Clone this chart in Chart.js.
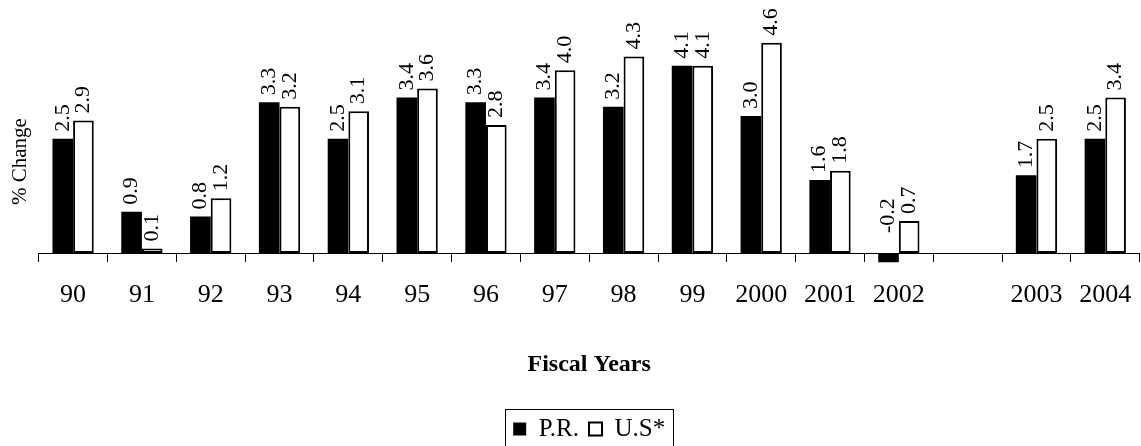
<!DOCTYPE html>
<html>
<head>
<meta charset="utf-8">
<script src="https://cdn.jsdelivr.net/npm/chart.js@4"></script>
<style>
  html, body { margin: 0; padding: 0; background: #fff; overflow: hidden; }
  #wrap { width: 1150px; height: 454px; }
</style>
</head>
<body>
<div id="wrap"><canvas id="chart"></canvas></div>
<script>
const years = ["90", "91", "92", "93", "94", "95", "96", "97", "98", "99", "2000", "2001", "2002", "", "2003", "2004"];
const prValues = [2.5, 0.9, 0.8, 3.3, 2.5, 3.4, 3.3, 3.4, 3.2, 4.1, 3.0, 1.6, -0.2, null, 1.7, 2.5];
const usValues = [2.9, 0.1, 1.2, 3.2, 3.1, 3.6, 2.8, 4.0, 4.3, 4.1, 4.6, 1.8, 0.7, null, 2.5, 3.4];

const serif = "'Liberation Serif', 'Times New Roman', serif";
Chart.defaults.font.family = serif;
Chart.defaults.color = "#000";

// rotated value labels above each bar
const barLabels = {
  id: "barLabels",
  afterDatasetsDraw(chart) {
    const ctx = chart.ctx;
    const zero = chart.scales.y.getPixelForValue(0);
    ctx.save();
    ctx.font = `22px ${serif}`;
    ctx.fillStyle = "#000";
    ctx.textAlign = "left";
    ctx.textBaseline = "middle";
    chart.data.datasets.forEach((ds, i) => {
      chart.getDatasetMeta(i).data.forEach((bar, j) => {
        const v = ds.data[j];
        if (v === null) return;
        const y = v < 0 ? zero - 20 : bar.y - 7;
        ctx.save();
        ctx.translate(bar.x, y);
        ctx.rotate(-Math.PI / 2);
        ctx.fillText(v.toFixed(1), 0, 0);
        ctx.restore();
      });
    });
    ctx.restore();
  }
};

// thin frame round the legend entries
const legendFrame = {
  id: "legendFrame",
  afterDraw(chart) {
    const boxes = chart.legend.legendHitBoxes;
    if (!boxes || !boxes.length) return;
    const last = boxes[boxes.length - 1];
    const left = Math.round(boxes[0].left - 8);
    const right = Math.round(last.left + last.width + 8);
    const top = Math.round(boxes[0].top + boxes[0].height / 2 - 20);
    const ctx = chart.ctx;
    ctx.save();
    ctx.strokeStyle = "#000";
    ctx.lineWidth = 1;
    ctx.strokeRect(left + 0.5, top + 0.5, right - left, 80);
    ctx.restore();
  }
};

new Chart(document.getElementById("chart"), {
  type: "bar",
  data: {
    labels: years,
    datasets: [
      {
        label: "P.R.",
        data: prValues,
        backgroundColor: "#000",
        borderColor: "#000",
        borderWidth: 0,
        categoryPercentage: 0.6,
        barPercentage: 1.0,
      },
      {
        label: "U.S*",
        data: usValues,
        backgroundColor: "#fff",
        borderColor: "#000",
        borderWidth: 2,
        borderSkipped: false,
        categoryPercentage: 0.6,
        barPercentage: 1.0,
      },
    ],
  },
  options: {
    responsive: true,
    maintainAspectRatio: false,
    animation: false,
    layout: { padding: { top: 24.5, right: 2, bottom: 2.5, left: 0 } },
    scales: {
      x: {
        position: { y: 0 },
        grid: { display: true, drawOnChartArea: false, drawTicks: true, tickLength: 8, color: "#000", offset: true },
        border: { display: true, color: "#000", width: 1 },
        ticks: { font: { size: 26 }, color: "#000", padding: 18.4, maxRotation: 0, autoSkip: false },
        afterFit: (s) => { s.height = 0; },
      },
      y: {
        min: -1,
        max: 5,
        grid: { display: false },
        border: { display: false },
        ticks: { display: false },
        title: { display: true, text: "% Change", font: { size: 21 }, color: "#000", padding: { top: 8, bottom: 0 } },
        afterFit: (s) => { s.width = 38.7; },
      },
    },
    plugins: {
      legend: {
        position: "bottom",
        fullSize: false,
        labels: { boxWidth: 13, boxHeight: 13, padding: 10, font: { size: 25 }, color: "#000" },
        title: {
          display: true,
          text: "Fiscal Years",
          position: "center",
          font: { size: 24, weight: "bold" },
          color: "#000",
          padding: { top: 54.3, bottom: 24.7 },
        },
      },
      tooltip: { enabled: false },
    },
  },
  plugins: [barLabels, legendFrame],
});
</script>
</body>
</html>
